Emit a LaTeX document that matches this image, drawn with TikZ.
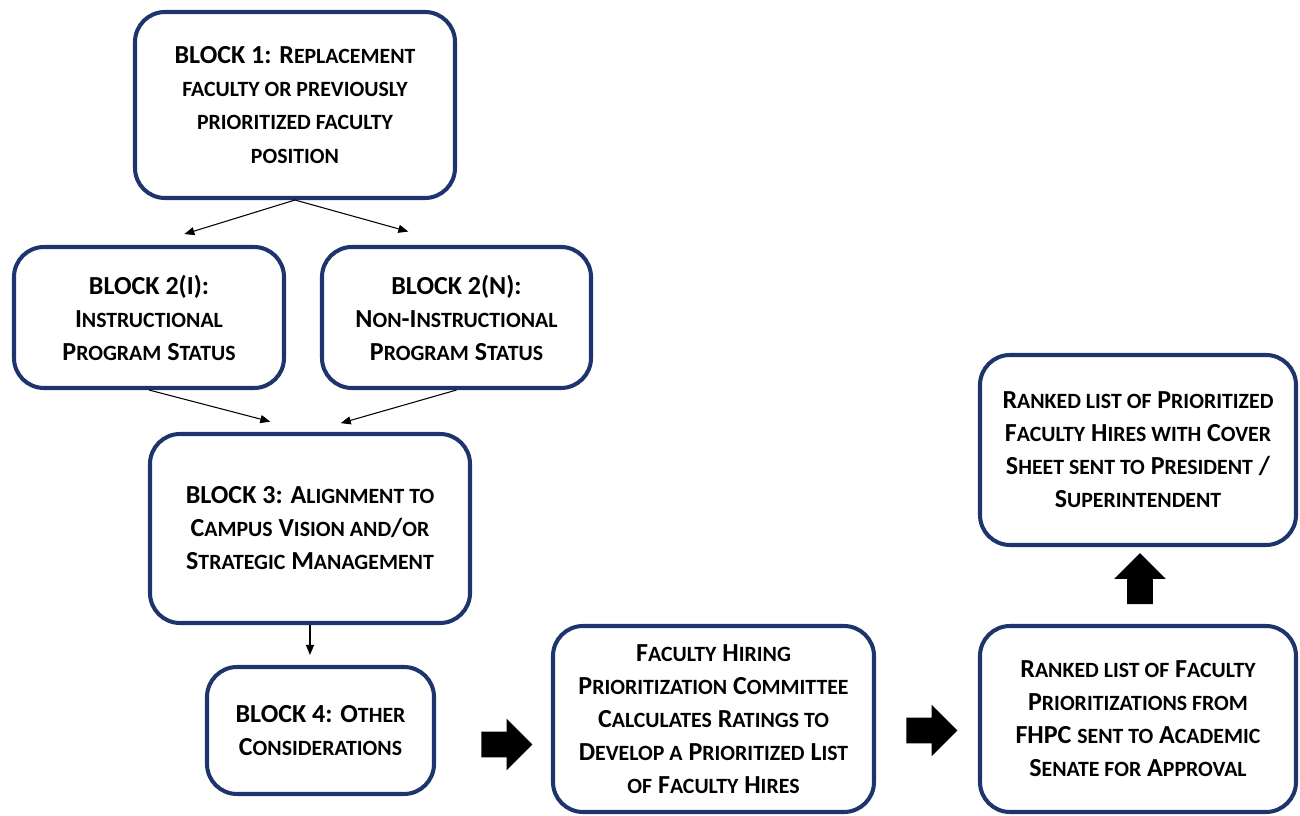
\documentclass[tikz,border=0pt]{standalone}
\usepackage{fontspec}
\setmainfont{Carlito}
\usepackage{xcolor}
\definecolor{fhnavy}{RGB}{30,52,108}
\usetikzlibrary{arrows.meta,shapes.arrows}
% fake small caps (Carlito has no smcp)
\newcommand{\fsc}[1]{{\fontsize{12.4}{18.8}\selectfont\MakeUppercase{#1}}}

\begin{document}
\begin{tikzpicture}[
  blockbox/.style={draw=fhnavy,line width=2.3pt,rounded corners=0.6cm,fill=white,
        align=center,inner sep=2pt,font=\fontsize{14.8}{18.8}\selectfont\bfseries},
  thinarrow/.style={-{Triangle[length=0.2cm,width=0.16cm]},line width=0.6pt},
  fatarrow/.style={single arrow,fill=black,draw=none,minimum height=1.02cm,
        single arrow head extend=0.26cm,inner sep=0pt}
]
  \useasboundingbox (0,0) rectangle (26,-16.32);

  %% Left column of blocks
  \node[blockbox,minimum width=6.4cm,minimum height=3.72cm] (b1) at (5.9,-2.1)
        {BLOCK 1: R\fsc{eplacement}\\\fsc{faculty or previously}\\\fsc{prioritized faculty}\\\fsc{position}};
  \node[blockbox,minimum width=5.4cm,minimum height=2.82cm] (b2i) at (2.98,-6.35)
        {BLOCK 2(I):\\I\fsc{nstructional}\\P\fsc{rogram} S\fsc{tatus}};
  \node[blockbox,minimum width=5.38cm,minimum height=2.82cm] (b2n) at (9.13,-6.35)
        {BLOCK 2(N):\\N\fsc{on}-I\fsc{nstructional}\\P\fsc{rogram} S\fsc{tatus}};
  \node[blockbox,minimum width=6.4cm,minimum height=3.78cm] (b3) at (6.2,-10.57)
        {BLOCK 3: A\fsc{lignment to}\\C\fsc{ampus} V\fsc{ision and}/\fsc{or}\\S\fsc{trategic} M\fsc{anagement}};
  \node[blockbox,minimum width=4.54cm,minimum height=2.54cm] (b4) at (6.41,-14.61)
        {BLOCK 4: O\fsc{ther}\\C\fsc{onsiderations}};

  %% Committee and ranked lists
  \node[blockbox,minimum width=6.42cm,minimum height=3.72cm] (fhpc) at (14.27,-14.38)
        {F\fsc{aculty} H\fsc{iring}\\P\fsc{rioritization} C\fsc{ommittee}\\C\fsc{alculates} R\fsc{atings to}\\D\fsc{evelop a} P\fsc{rioritized} L\fsc{ist}\\\fsc{of} F\fsc{aculty} H\fsc{ires}};
  \node[blockbox,minimum width=6.32cm,minimum height=3.72cm] (rank1) at (22.76,-14.38)
        {R\fsc{anked list of} F\fsc{aculty}\\P\fsc{rioritizations from}\\FHPC \fsc{sent to} A\fsc{cademic}\\S\fsc{enate for} A\fsc{pproval}};
  \node[blockbox,minimum width=6.32cm,minimum height=3.8cm] (rank2) at (22.76,-9.0)
        {R\fsc{anked list of} P\fsc{rioritized}\\F\fsc{aculty} H\fsc{ires with} C\fsc{over}\\S\fsc{heet sent to} P\fsc{resident} /\\S\fsc{uperintendent}};

  %% Block arrows
  \node[fatarrow] (a1) at (10.01,-14.89) {\phantom{\rule{0.5cm}{0.5cm}}};
  \node[fatarrow] (a2) at (18.51,-14.61) {\phantom{\rule{0.5cm}{0.5cm}}};
  \node[fatarrow,shape border rotate=90] (a3) at (22.8,-11.7) {\phantom{\rule{0.5cm}{0.5cm}}};

  %% Thin connectors
  \draw[thinarrow,shorten >=0.74cm] (b1.south) -- (b2i.north);
  \draw[thinarrow,shorten >=1.0cm] (b1.south) -- (b2n.north);
  \draw[thinarrow,shorten >=0.82cm] (b2i.south) -- (b3.north);
  \draw[thinarrow,shorten >=0.64cm] (b2n.south) -- (b3.north);
  \draw[thinarrow,shorten >=0.2cm] (b3.south) -- (b3.south |- b4.north);
\end{tikzpicture}
\end{document}
